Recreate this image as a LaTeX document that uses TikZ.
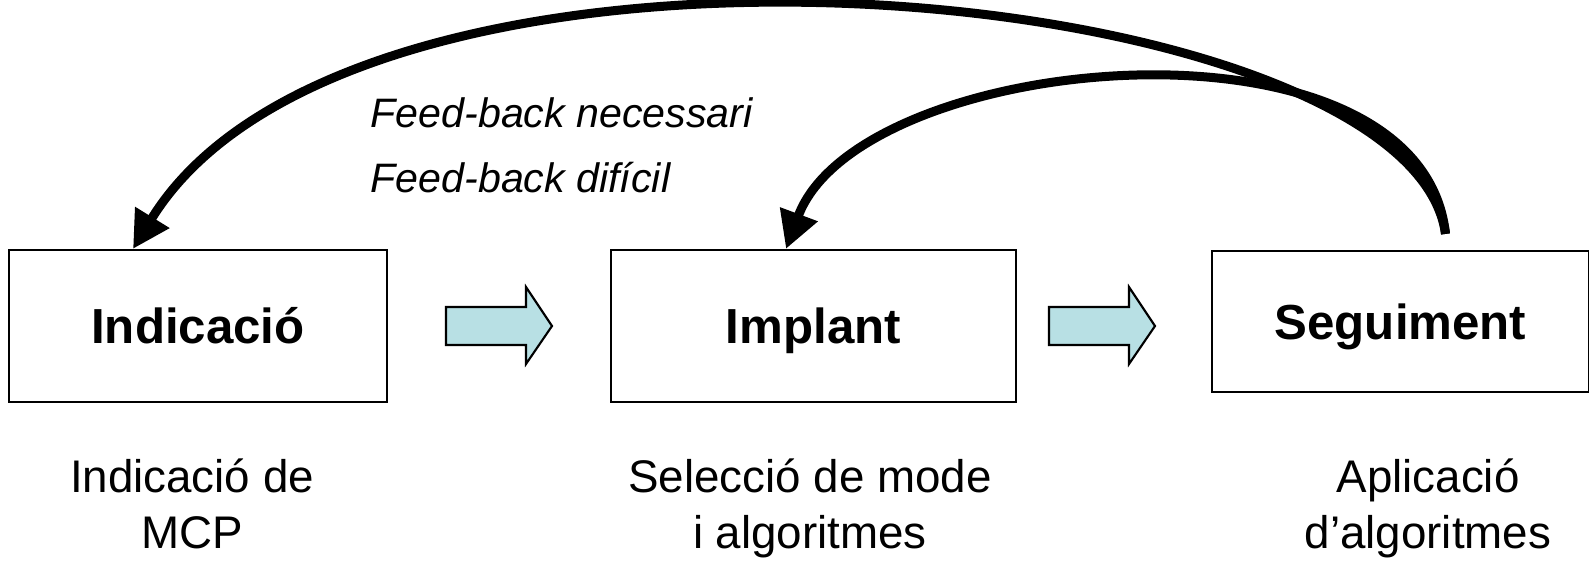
\documentclass[tikz,border=0pt]{standalone}
\usepackage{fontspec}
\setmainfont{Liberation Sans}
\usetikzlibrary{arrows.meta,calc,positioning}
\definecolor{arrowfill}{RGB}{184,224,228}
\tikzset{
    stage/.style={draw, line width=0.6pt, inner sep=0pt, text height=0.35cm, text depth=0pt,
        font=\fontsize{14}{17}\selectfont\bfseries},
    caption/.style={align=center, inner sep=0pt, anchor=base, font=\fontsize{13}{15.93}\selectfont},
    note/.style={anchor=base west, inner sep=0pt, font=\fontsize{11.7}{14}\selectfont\itshape},
    feedback/.style={line width=0.09cm, -{Triangle[width=0.38cm,length=0.37cm]}},
    fatarrow/.style={draw, line width=0.6pt, fill=arrowfill, line join=miter}
}

\begin{document}
\begin{tikzpicture}[x=0.01cm, y=-0.01cm]
    \useasboundingbox (0,0) rectangle (1589,563);

    % the three stages
    \node[stage, minimum width=3.78cm, minimum height=1.52cm] (ind) at (198,326) {Indicació};
    \node[stage, minimum width=4.05cm, minimum height=1.52cm] (imp) at (813.5,326) {Implant};
    \node[stage, minimum width=3.77cm, minimum height=1.41cm] (seg) at (1400.5,321.5) {Seguiment};

    % block arrows between stages
    \draw[fatarrow, shift={(446,326)}]
        (0,-19) -- (80,-19) -- (80,-39) -- (106,0) -- (80,38) -- (80,19) -- (0,19) -- cycle;
    \draw[fatarrow, shift={(1049,326)}]
        (0,-19) -- (80,-19) -- (80,-39) -- (106,0) -- (80,38) -- (80,19) -- (0,19) -- cycle;

    % what happens in each stage (base = last line)
    \node[caption] (indcap) at (192,548) {Indicació de\\MCP};
    \node[caption] (impcap) at (810,548) {Selecció de mode\\i algoritmes};
    \node[caption] (segcap) at (1428,548) {Aplicació\\d’algoritmes};

    % feedback loops back from Seguiment
    \coordinate (fbstart) at ($(seg.north)+(45,-16)$);
    \draw[feedback] (fbstart) .. controls (1410,-20) and (360,-120) .. ($(ind.north)+(-65,0)$);
    \draw[feedback] (fbstart) .. controls (1420,0) and (860,50) .. ($(imp.north)+(-27.5,0)$);

    \node[note] (fbneed) at (370,127) {Feed-back necessari};
    \node[note] (fbhard) at (370,192) {Feed-back difícil};
\end{tikzpicture}
\end{document}
